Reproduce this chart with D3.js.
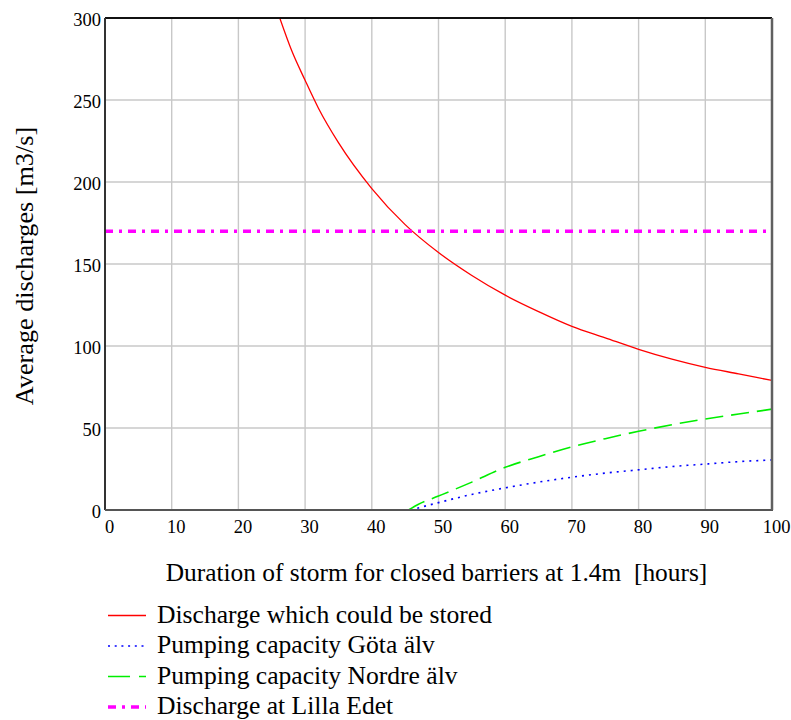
<!DOCTYPE html>
<html>
<head>
<meta charset="utf-8">
<script src="https://cdn.jsdelivr.net/npm/d3@7"></script>
<style>
  html, body { margin: 0; padding: 0; background: #fff; }
  svg { display: block; }
  text { font-family: "Liberation Serif", "Times New Roman", serif; fill: #000; }
</style>
</head>
<body>
<svg id="chart" width="791" height="720"></svg>
<script>
// Storm duration (hours) and average discharge values (m3/s)
const storedHours  = [26.2, 28, 30, 32, 35, 40, 45, 50, 55, 60, 65, 70, 75, 80, 85, 90, 95, 100];
const storedValues = [300, 280, 262, 245, 224, 196, 174, 157, 143, 131, 121, 112, 105, 98, 92, 87, 83, 79];

const gotaHours  = [45.8, 50, 55, 60, 65, 70, 75, 80, 85, 90, 95, 100];
const gotaValues = [0, 4.5, 9.5, 13.5, 17, 20, 22.5, 24.5, 26.5, 28, 29.5, 30.5];

const nordreHours  = [45.5, 47, 50, 55, 60, 65, 70, 75, 80, 85, 90, 95, 100];
const nordreValues = [0, 3.5, 8.5, 17, 26, 32.5, 38.5, 43.5, 48, 52, 55.5, 58.5, 61.5];

const lillaEdetHours  = [0, 100];
const lillaEdetValues = [170, 170];

const xTicks = [0, 10, 20, 30, 40, 50, 60, 70, 80, 90, 100];
const yTicks = [0, 50, 100, 150, 200, 250, 300];

const seriesNames = [
  "Discharge which could be stored",
  "Pumping capacity Göta älv",
  "Pumping capacity Nordre älv",
  "Discharge at Lilla Edet"
];

const xTitle = "Duration of storm for closed barriers at 1.4m  [hours]";
const yTitle = "Average discharges [m3/s]";

const svg = d3.select("#chart");
const plot = { left: 105, right: 772, top: 18, bottom: 510 };

const x = d3.scaleLinear().domain([0, 100]).range([plot.left, plot.right]);
const y = d3.scaleLinear().domain([0, 300]).range([plot.bottom, plot.top]);

// Grid
const grid = svg.append("g").attr("stroke", "#c8c8c8").attr("stroke-width", 1.4);
xTicks.filter(d => d > 0 && d < 100).forEach(d => {
  grid.append("line").attr("x1", x(d)).attr("x2", x(d)).attr("y1", plot.top).attr("y2", plot.bottom);
});
yTicks.filter(d => d > 0 && d < 300).forEach(d => {
  grid.append("line").attr("x1", plot.left).attr("x2", plot.right).attr("y1", y(d)).attr("y2", y(d));
});

// Tick labels via D3 axes (lines hidden, text only)
const xAxis = svg.append("g")
  .attr("transform", `translate(4,${plot.bottom})`)
  .call(d3.axisBottom(x).tickValues(xTicks).tickSize(0).tickPadding(23).tickFormat(d3.format("d")));
xAxis.select(".domain").remove();
xAxis.selectAll("text").attr("font-size", 18.5).attr("dy", 0)
  .attr("font-family", "'Liberation Serif', 'Times New Roman', serif").attr("fill", "#000");

const yAxis = svg.append("g")
  .attr("transform", `translate(${plot.left - 4},0)`)
  .call(d3.axisLeft(y).tickValues(yTicks).tickSize(0).tickPadding(0).tickFormat(d3.format("d")));
yAxis.select(".domain").remove();
yAxis.selectAll("text").attr("font-size", 18.5).attr("dy", 7)
  .attr("font-family", "'Liberation Serif', 'Times New Roman', serif").attr("fill", "#000");

// Series
svg.append("clipPath").attr("id", "plotClip")
  .append("rect").attr("x", plot.left).attr("y", plot.top)
  .attr("width", plot.right - plot.left).attr("height", plot.bottom - plot.top);

const lineGen = d3.line().x(d => x(d[0])).y(d => y(d[1])).curve(d3.curveMonotoneX);
const series = [
  { hours: storedHours, values: storedValues, color: "#ff0000", width: 1.3, dash: null, legendDash: null },
  { hours: gotaHours, values: gotaValues, color: "#0000ff", width: 1.6, dash: "2,5", legendDash: "2,4.7" },
  { hours: nordreHours, values: nordreValues, color: "#00ee00", width: 1.6, dash: "18,8", legendDash: "22,9" },
  { hours: lillaEdetHours, values: lillaEdetValues, color: "#ff00ff", width: 3.5, dash: "8,6,3,6", legendDash: "8,6,3,6" }
];

const gSeries = svg.append("g").attr("clip-path", "url(#plotClip)");
series.forEach(s => {
  gSeries.append("path")
    .datum(d3.zip(s.hours, s.values))
    .attr("d", lineGen)
    .attr("fill", "none")
    .attr("stroke", s.color)
    .attr("stroke-width", s.width)
    .attr("stroke-dasharray", s.dash);
});

// Frame
const frame = svg.append("g").attr("fill", "none");
frame.append("line").attr("x1", plot.left).attr("x2", plot.right).attr("y1", plot.top).attr("y2", plot.top)
  .attr("stroke", "#111").attr("stroke-width", 2);
frame.append("line").attr("x1", plot.left).attr("x2", plot.left).attr("y1", plot.top).attr("y2", plot.bottom)
  .attr("stroke", "#333").attr("stroke-width", 2);
frame.append("line").attr("x1", plot.left).attr("x2", plot.right + 1).attr("y1", plot.bottom).attr("y2", plot.bottom)
  .attr("stroke", "#555").attr("stroke-width", 2);
frame.append("line").attr("x1", plot.right).attr("x2", plot.right).attr("y1", plot.top).attr("y2", plot.bottom)
  .attr("stroke", "#606060").attr("stroke-width", 2.5);

// Axis titles
svg.append("text")
  .attr("x", (plot.left + plot.right) / 2 - 2).attr("y", 581)
  .attr("text-anchor", "middle").attr("font-size", 25.4)
  .style("white-space", "pre")
  .text(xTitle);

svg.append("text")
  .attr("transform", `translate(33,${(plot.top + plot.bottom) / 2 + 2}) rotate(-90)`)
  .attr("text-anchor", "middle").attr("font-size", 26.2)
  .text(yTitle);

// Legend
const legend = svg.append("g");
const legendRowY = [615.5, 646, 676.5, 707];
series.forEach((s, i) => {
  legend.append("line")
    .attr("x1", 108).attr("x2", 146)
    .attr("y1", legendRowY[i]).attr("y2", legendRowY[i])
    .attr("stroke", s.color).attr("stroke-width", s.width)
    .attr("stroke-dasharray", s.legendDash);
  legend.append("text")
    .attr("x", 157).attr("y", legendRowY[i] + 7)
    .attr("font-size", 25.6)
    .text(seriesNames[i]);
});
</script>
</body>
</html>
